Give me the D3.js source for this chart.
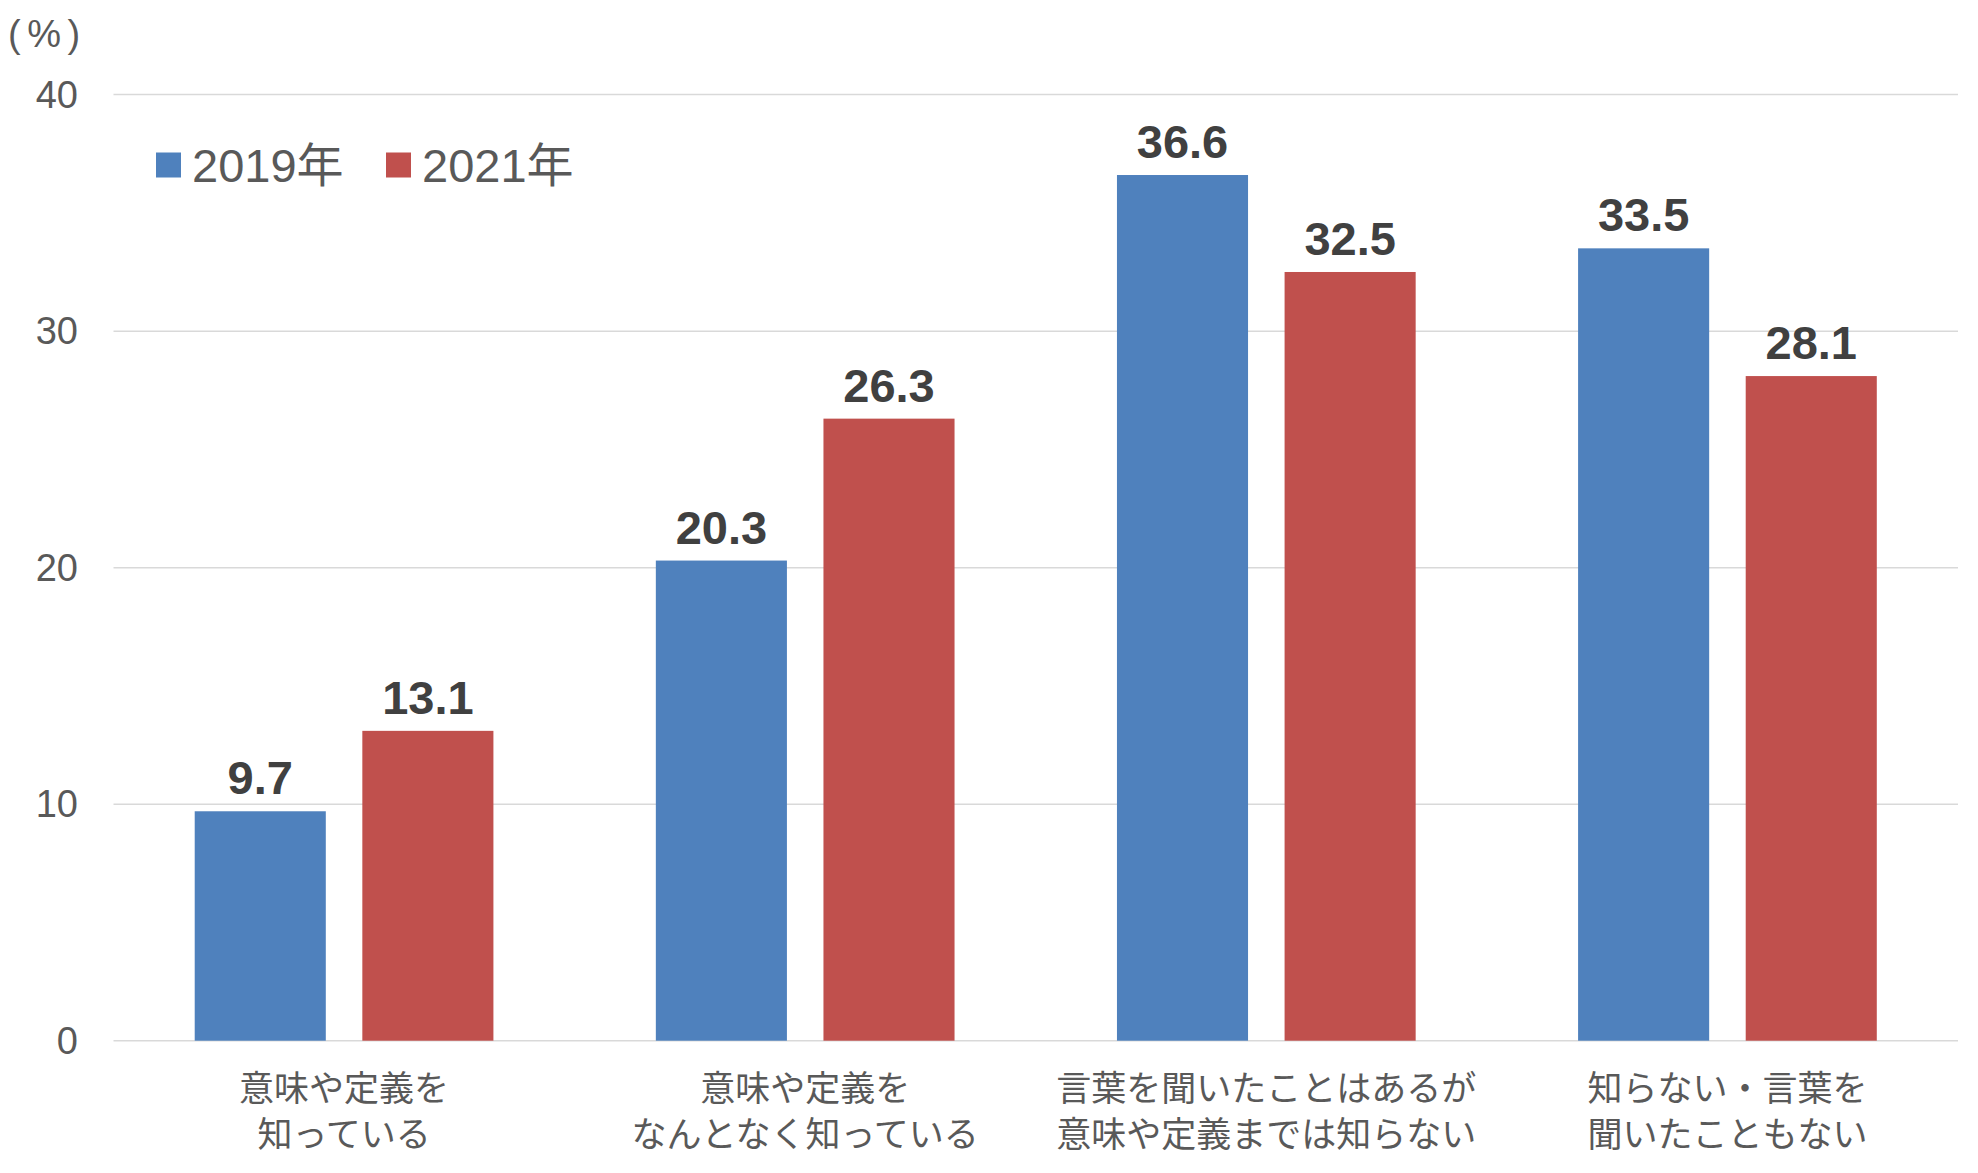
<!DOCTYPE html>
<html>
<head>
<meta charset="utf-8">
<script src="https://cdn.jsdelivr.net/npm/d3@7"></script>
<style>
  body { margin: 0; background: #fff; }
  text { font-family: "Liberation Sans", Arial, "Noto Sans CJK JP", sans-serif; }
</style>
</head>
<body>
<svg id="chart" width="1978" height="1173"></svg>
<script>
// data
var categories = [
  ["意味や定義を", "知っている"],
  ["意味や定義を", "なんとなく知っている"],
  ["言葉を聞いたことはあるが", "意味や定義までは知らない"],
  ["知らない・言葉を", "聞いたこともない"]
];
var seriesNames = ["2019年", "2021年"];
var values2019 = [9.7, 20.3, 36.6, 33.5];
var values2021 = [13.1, 26.3, 32.5, 28.1];
var yTicks = [0, 10, 20, 30, 40];
var colors = ["#4F81BD", "#C0504D"];

var svg = d3.select("#chart");

var x0 = d3.scaleBand()
  .domain(d3.range(categories.length))
  .range([113.5, 1958])
  .padding(0);

var x1 = d3.scaleBand()
  .domain(seriesNames)
  .range([0, x0.bandwidth()])
  .paddingInner(0.218)
  .paddingOuter(0.4845);

var y = d3.scaleLinear()
  .domain([0, 40])
  .range([1040.7, 94.6]);

// gridlines
svg.append("g")
  .selectAll("line")
  .data(yTicks)
  .enter()
  .append("line")
  .attr("x1", 113.5)
  .attr("x2", 1958)
  .attr("y1", function(d) { return y(d); })
  .attr("y2", function(d) { return y(d); })
  .style("stroke", "#d9d9d9")
  .style("stroke-width", 1.5);

// y tick labels
svg.append("g")
  .selectAll("text")
  .data(yTicks)
  .enter()
  .append("text")
  .attr("x", 78)
  .attr("y", function(d) { return y(d); })
  .attr("text-anchor", "end")
  .attr("dominant-baseline", "central")
  .style("font-size", "38px")
  .style("fill", "#595959")
  .text(function(d) { return d; });

svg.append("text")
  .attr("x", 8)
  .attr("y", 34)
  .attr("dominant-baseline", "central")
  .style("font-size", "38px")
  .style("letter-spacing", "6.5px")
  .style("fill", "#595959")
  .text("(%)");

// bars
var rows = categories.map(function(c, i) {
  return [
    { series: seriesNames[0], value: values2019[i], color: colors[0] },
    { series: seriesNames[1], value: values2021[i], color: colors[1] }
  ];
});

var groups = svg.append("g")
  .selectAll("g")
  .data(rows)
  .enter()
  .append("g")
  .attr("transform", function(d, i) { return "translate(" + x0(i) + ",0)"; });

groups.selectAll("rect")
  .data(function(d) { return d; })
  .enter()
  .append("rect")
  .attr("x", function(d) { return x1(d.series); })
  .attr("width", x1.bandwidth())
  .attr("y", function(d) { return y(d.value); })
  .attr("height", function(d) { return y(0) - y(d.value); })
  .attr("fill", function(d) { return d.color; });

groups.selectAll("text.val")
  .data(function(d) { return d; })
  .enter()
  .append("text")
  .attr("class", "val")
  .attr("x", function(d) { return x1(d.series) + x1.bandwidth() / 2; })
  .attr("y", function(d) { return y(d.value) - 17; })
  .attr("text-anchor", "middle")
  .style("font-size", "47px")
  .style("font-weight", "bold")
  .style("fill", "#404040")
  .text(function(d) { return d.value.toFixed(1); });

// category labels
var catLabels = svg.append("g")
  .selectAll("text")
  .data(categories)
  .enter()
  .append("text")
  .attr("x", function(d, i) { return x0(i) + x0.bandwidth() / 2; })
  .attr("y", 1085)
  .attr("text-anchor", "middle")
  .style("font-size", "35px")
  .style("fill", "#595959")
  .style("font-family", "'Noto Sans CJK JP', sans-serif");

catLabels.selectAll("tspan")
  .data(function(d) { return d; })
  .enter()
  .append("tspan")
  .attr("x", function() { return d3.select(this.parentNode).attr("x"); })
  .attr("y", function(d, j) { return 1085 + j * 46.5; })
  .attr("dominant-baseline", "central")
  .text(function(d) { return d; });

// legend
var legend = svg.append("g")
  .selectAll("g")
  .data(seriesNames)
  .enter()
  .append("g")
  .attr("transform", function(d, i) { return "translate(" + (156 + i * 230) + ",165)"; });

legend.append("rect")
  .attr("x", 0)
  .attr("y", -12.5)
  .attr("width", 25)
  .attr("height", 25)
  .attr("fill", function(d, i) { return colors[i]; });

legend.append("text")
  .attr("x", 36)
  .attr("y", 0)
  .attr("dominant-baseline", "central")
  .style("font-size", "47px")
  .style("fill", "#595959")
  .text(function(d) { return d; });
</script>
</body>
</html>
